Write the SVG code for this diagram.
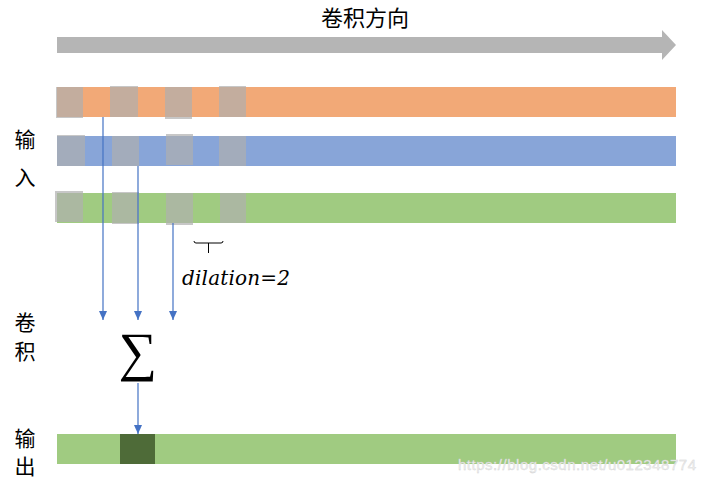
<svg xmlns="http://www.w3.org/2000/svg" width="702" height="481" viewBox="0 0 702 481">
<style>
.cjk{font-family:"Noto Sans CJK SC","Noto Sans",sans-serif;fill:#000;text-anchor:middle}
.sq{fill:#afafaf;fill-opacity:0.7}
.conn{stroke:#4472c4;stroke-width:1.2;fill:none;marker-end:url(#ah)}
</style>
<defs>
<marker id="ah" markerWidth="9" markerHeight="8" refX="9" refY="4" orient="auto" markerUnits="userSpaceOnUse" viewBox="0 0 9 8">
<path d="M0,0 L9,4 L0,8 Z" fill="#4472c4"/>
</marker>
</defs>
<rect width="702" height="481" fill="#fff"/>
<g id="direction">
<polygon points="57,37 662,37 662,30 676,45 662,60 662,53 57,53" fill="#b5b5b5"/>
<text class="cjk" x="365" y="26" font-size="22">卷积方向</text>
</g>
<g id="labels">
<text class="cjk" x="25" y="147" font-size="21">输</text>
<text class="cjk" x="25" y="185" font-size="21">入</text>
<text class="cjk" x="25" y="330" font-size="21">卷</text>
<text class="cjk" x="25" y="359" font-size="21">积</text>
<text class="cjk" x="25" y="446" font-size="21">输</text>
<text class="cjk" x="25" y="474" font-size="21">出</text>
</g>
<g id="input-orange">
<rect x="57" y="87" width="619" height="30" fill="#f2a977"/>
<rect class="sq" x="56" y="87" width="27" height="31"/>
<rect class="sq" x="110" y="86" width="28" height="31"/>
<rect class="sq" x="165" y="87" width="27" height="32"/>
<rect class="sq" x="219" y="86" width="27" height="31"/>
</g>
<g id="input-blue">
<rect x="57" y="136" width="619" height="30" fill="#88a5d8"/>
<rect class="sq" x="57" y="135" width="28" height="31"/>
<rect class="sq" x="112" y="136" width="27" height="30"/>
<rect class="sq" x="166" y="134" width="27" height="31"/>
<rect class="sq" x="219" y="136" width="27" height="30"/>
</g>
<g id="input-green">
<rect x="57" y="193" width="619" height="30" fill="#a0cb81"/>
<rect class="sq" x="55" y="191" width="28" height="31"/>
<rect class="sq" x="112" y="192" width="27" height="32"/>
<rect class="sq" x="166" y="193" width="27" height="32"/>
<rect class="sq" x="220" y="193" width="26" height="30"/>
</g>
<g id="dilation">
<path d="M194,241 Q194,243 196,243 L221,243 Q223,243 223,241 M208.5,243 L208.5,253" stroke="#000" stroke-width="1" fill="none"/>
<text x="182" y="285" font-family="DejaVu Serif,serif" font-style="italic" font-size="20" textLength="108">dilation=2</text>
</g>
<g id="connectors">
<line class="conn" x1="103" y1="117" x2="103" y2="320"/>
<line class="conn" x1="138" y1="166" x2="138" y2="320"/>
<line class="conn" x1="173" y1="223" x2="173" y2="320"/>
<line class="conn" x1="138" y1="383" x2="138" y2="434"/>
</g>
<g id="sum">
<text x="138" y="370" font-family="Liberation Serif,serif" font-size="54" text-anchor="middle">∑</text>
</g>
<g id="output">
<rect x="57" y="434" width="619" height="30" fill="#a0cb81"/>
<rect x="120" y="434" width="35" height="30" fill="#4e6b38"/>
</g>
<text x="458" y="470" font-family="Liberation Sans,Arial,sans-serif" font-size="15" textLength="238" fill="#eeeeee" stroke="#d0d0d0" stroke-width="0.3">https://blog.csdn.net/u012348774</text>
</svg>
